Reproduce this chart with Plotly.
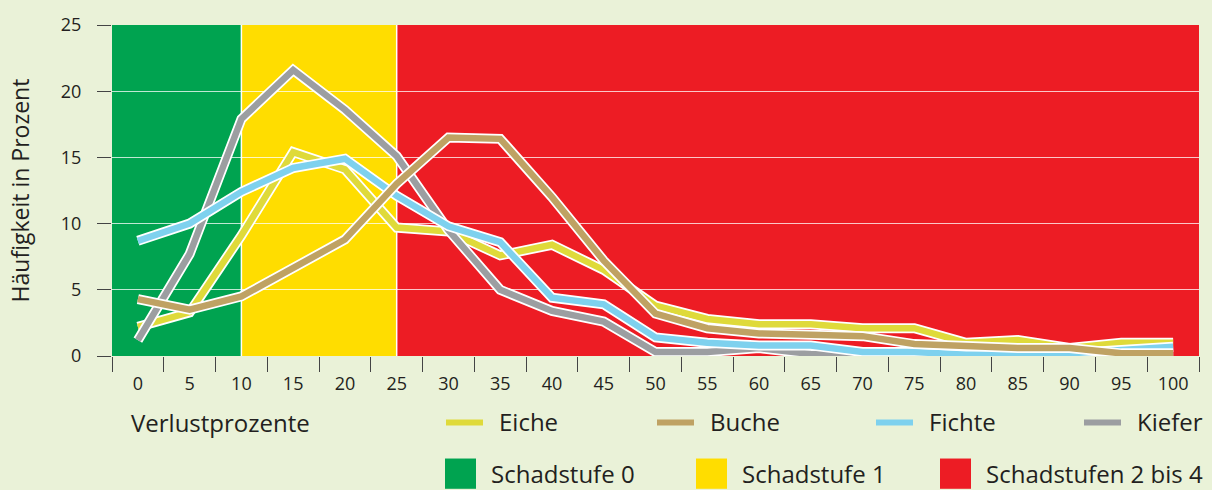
import plotly.graph_objects as go

# ---- data ----
verlust = [0, 5, 10, 15, 20, 25, 30, 35, 40, 45, 50, 55, 60, 65, 70, 75, 80, 85, 90, 95, 100]
tick_labels = [str(v) for v in verlust]
eiche = [2.2, 3.3, 9.1, 15.4, 14.1, 9.7, 9.4, 7.6, 8.4, 6.5, 3.8, 2.8, 2.4, 2.4, 2.1, 2.1, 1.0, 1.2, 0.6, 1.0, 1.0]
buche = [4.3, 3.5, 4.5, 6.6, 8.8, 13.0, 16.5, 16.4, 12.0, 7.2, 3.2, 2.1, 1.7, 1.6, 1.5, 0.9, 0.7, 0.6, 0.6, 0.2, 0.2]
fichte = [8.7, 10.0, 12.4, 14.2, 14.9, 12.1, 9.8, 8.6, 4.4, 3.9, 1.4, 1.0, 0.8, 0.8, 0.3, 0.3, 0.1, 0.1, 0.2, 0.45, 0.7]
kiefer = [1.2, 7.7, 17.9, 21.6, 18.6, 15.1, 9.5, 5.0, 3.4, 2.6, 0.3, 0.3, 0.6, 0.15, 0.05, 0.0, 0.0, 0.0, 0.0, 0.0, 0.0]
series_names = ["Eiche", "Buche", "Fichte", "Kiefer"]
stufen_names = ["Schadstufe 0", "Schadstufe 1", "Schadstufen 2 bis 4"]
stufen_bounds = [(0, 10), (10, 25), (25, 100)]

# ---- style ----
BG = "#EAF2D8"
FONT = "Open Sans"
TXT = "#231F20"
line_colors = {"Eiche": "#DFDA3A", "Buche": "#BFA263", "Fichte": "#7ED1EE", "Kiefer": "#9C9EA1"}
band_colors = ["#00A350", "#FFDD00", "#ED1C24"]

W, H = 1212, 490
L, R, T, B = 112, 13, 17, 134
PW, PH = W - L - R, H - T - B
LEG_FS = 24


def px(xp):
    return (xp - L) / PW


def py(yp):
    return (H - B - yp) / PH


def cat_pos(v):
    # position of value v on the category axis (index units)
    return verlust.index(v)


fig = go.Figure()

series = {"Eiche": eiche, "Buche": buche, "Fichte": fichte, "Kiefer": kiefer}
draw_order = ["Eiche", "Kiefer", "Fichte", "Buche"]
for name in draw_order:
    fig.add_trace(go.Scatter(x=tick_labels, y=series[name], mode="lines",
                             line=dict(color="white", width=10),
                             showlegend=False, hoverinfo="skip"))
    fig.add_trace(go.Scatter(x=tick_labels, y=series[name], mode="lines", name=name,
                             line=dict(color=line_colors[name], width=6.5),
                             showlegend=False))

shapes = []
# background bands (in data coordinates)
for i, (a, b) in enumerate(stufen_bounds):
    x0 = -0.5 if a == verlust[0] else cat_pos(a)
    x1 = len(verlust) - 0.5 if b == verlust[-1] else cat_pos(b)
    shapes.append(dict(type="rect", xref="x", yref="y", x0=x0, x1=x1, y0=0, y1=25,
                       fillcolor=band_colors[i], line=dict(width=0), layer="below"))
for a, b in stufen_bounds[:-1]:
    shapes.append(dict(type="line", xref="x", yref="y", x0=cat_pos(b), x1=cat_pos(b), y0=0, y1=25,
                       line=dict(color="white", width=1.5), layer="between"))

annotations = []
# x axis caption
annotations.append(dict(x=px(129), y=py(424), xref="paper", yref="paper", text="Verlustprozente",
                        showarrow=False, xanchor="left", yanchor="middle",
                        font=dict(family=FONT, size=LEG_FS, color=TXT)))
# line legend
leg_x = [446, 657, 876, 1084]
for name, lx in zip(series_names, leg_x):
    shapes.append(dict(type="line", xref="paper", yref="paper", x0=px(lx), x1=px(lx + 37),
                       y0=py(424), y1=py(424), line=dict(color=line_colors[name], width=6)))
    annotations.append(dict(x=px(lx + 51), y=py(423), xref="paper", yref="paper", text=name,
                            showarrow=False, xanchor="left", yanchor="middle",
                            font=dict(family=FONT, size=LEG_FS, color=TXT)))
# band legend
sq_x = [445, 696, 940]
for i, (name, sx) in enumerate(zip(stufen_names, sq_x)):
    shapes.append(dict(type="rect", xref="paper", yref="paper", x0=px(sx), x1=px(sx + 31),
                       y0=py(492), y1=py(461), fillcolor=band_colors[i], line=dict(width=0)))
    annotations.append(dict(x=px(sx + 44), y=py(476), xref="paper", yref="paper", text=name,
                            showarrow=False, xanchor="left", yanchor="middle",
                            font=dict(family=FONT, size=LEG_FS, color=TXT)))

fig.update_layout(
    width=W, height=H,
    margin=dict(l=L, r=R, t=T, b=B),
    paper_bgcolor=BG, plot_bgcolor=BG,
    font=dict(family=FONT, color=TXT),
    shapes=shapes, annotations=annotations,
    showlegend=False,
)
fig.update_xaxes(type="category", range=[-0.5, len(verlust) - 0.5], tickson="boundaries",
                 ticks="outside", ticklen=15, tickcolor="#444", tickwidth=1,
                 showgrid=False, showline=False, zeroline=False,
                 tickfont=dict(family=FONT, size=18, color=TXT), ticklabelstandoff=15)
fig.update_yaxes(range=[0, 25], tickvals=[0, 5, 10, 15, 20, 25],
                 ticks="outside", ticklen=14, tickcolor="#444", tickwidth=1,
                 showgrid=True, gridcolor="rgba(255,255,255,0.75)", gridwidth=1,
                 showline=False, zeroline=False,
                 tickfont=dict(family=FONT, size=18, color=TXT), ticklabelstandoff=12,
                 title=dict(text="Häufigkeit in Prozent", standoff=24,
                            font=dict(family=FONT, size=23, color=TXT)))

fig.write_html("out.html",
               config={"displayModeBar": False},
               post_script="document.body.style.margin='0';document.body.style.padding='0';"
                           "document.body.style.overflow='hidden';"
                           "document.body.style.background='" + BG + "';")
